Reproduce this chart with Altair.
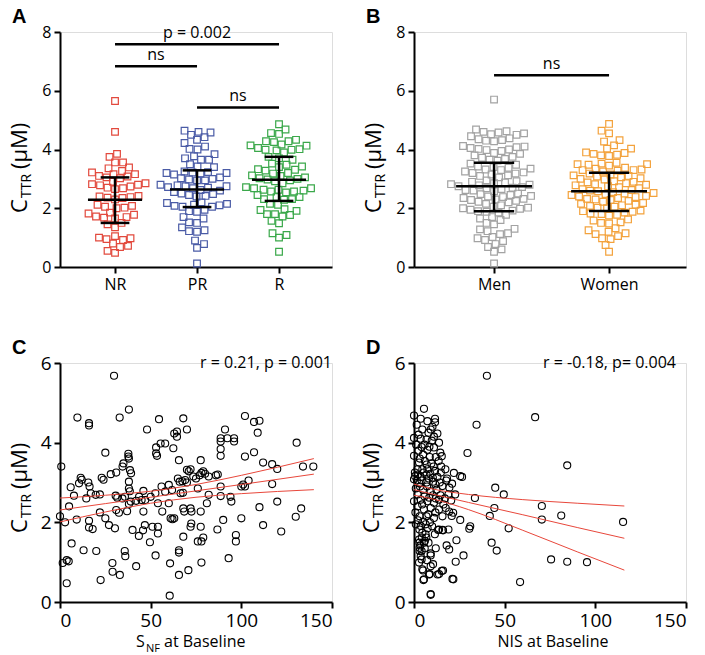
import altair as alt
import numpy as np
import pandas as pd

FONT = "Open Sans"
RED = "#e8473b"

# ---------------- Panel A data ----------------
A_groups = ["NR", "PR", "R"]
A_colors = ["#e2493d", "#4a5ba6", "#3aa84a"]
A_NR = [5.65, 4.6, 3.85, 3.75, 3.56, 3.56, 3.39, 3.36, 3.27, 3.22, 3.16, 3.16, 3.1, 3.08,
        3.05, 3.02, 2.9, 2.85, 2.82, 2.8, 2.78, 2.74, 2.7, 2.68, 2.65, 2.42, 2.4, 2.38, 2.36,
        2.35, 2.3, 2.12, 2.08, 2.05, 2.02, 2.0, 1.85, 1.82, 1.78, 1.72, 1.7, 1.68, 1.65, 1.5,
        1.45, 1.35, 1.05, 1.0, 0.98, 0.95, 0.92, 0.8, 0.72, 0.68, 0.55, 0.48]
A_PR = [4.64, 4.6, 4.58, 4.5, 4.42, 4.33, 4.22, 4.1, 4.02, 4.0, 3.84, 3.77, 3.7, 3.65, 3.65,
        3.5, 3.42, 3.4, 3.25, 3.23, 3.22, 3.2, 3.2, 3.18, 3.15, 3.05, 3.02, 3.0, 2.98, 2.95,
        2.95, 2.8, 2.78, 2.75, 2.75, 2.72, 2.7, 2.68, 2.62, 2.6, 2.55, 2.5, 2.48, 2.45, 2.42,
        2.4, 2.2, 2.18, 2.15, 2.12, 2.1, 2.08, 2.05, 2.05, 1.95, 1.9, 1.88, 1.7, 1.65, 1.52,
        1.5, 1.35, 1.25, 1.22, 1.2, 0.9, 0.78, 0.65, 0.12]
A_R = [4.86, 4.68, 4.56, 4.53, 4.33, 4.28, 4.28, 4.25, 4.17, 4.14, 4.13, 4.05, 4.01, 3.99,
       3.99, 3.97, 3.9, 3.75, 3.7, 3.65, 3.52, 3.48, 3.42, 3.4, 3.33, 3.31, 3.28, 3.2, 3.18,
       3.12, 3.1, 3.05, 3.02, 3.0, 2.98, 2.95, 2.92, 2.85, 2.72, 2.68, 2.68, 2.63, 2.63, 2.6,
       2.57, 2.57, 2.54, 2.45, 2.38, 2.38, 2.31, 2.31, 2.29, 2.15, 2.12, 1.97, 1.94, 1.91,
       1.8, 1.8, 1.77, 1.72, 1.57, 1.49, 1.15, 1.09, 1.0, 0.52]
A_mean = [2.29, 2.64, 2.97]
A_lo = [1.50, 2.04, 2.25]
A_hi = [3.05, 3.29, 3.75]
A_sig_from = [1, 1, 2]
A_sig_to = [3, 2, 3]
A_sig_y = [7.58, 6.83, 5.43]
A_sig_label = ["p = 0.002", "ns", "ns"]

# ---------------- Panel B data ----------------
B_groups = ["Men", "Women"]
B_colors = ["#a3a3a3", "#f3a23c"]
B_Men = [5.7,
         4.68, 4.62, 4.6, 4.58, 4.55, 4.52, 4.5, 4.45,
         4.38, 4.35, 4.32, 4.3, 4.28,
         4.12, 4.1, 4.08, 4.05, 4.02, 4.0, 3.98, 3.95,
         3.88, 3.85, 3.8, 3.75, 3.72, 3.68, 3.65, 3.62,
         3.52, 3.48, 3.42, 3.4, 3.38, 3.35, 3.32, 3.3,
         3.25, 3.22, 3.2, 3.18, 3.15, 3.12, 3.1, 3.05,
         2.95, 2.92, 2.9, 2.88, 2.85, 2.82, 2.8, 2.78,
         2.75, 2.72, 2.7, 2.68, 2.65, 2.62, 2.6, 2.58,
         2.5, 2.48, 2.45, 2.42, 2.4, 2.38, 2.35, 2.32,
         2.3, 2.28, 2.25, 2.22, 2.2, 2.15, 2.1, 2.05,
         2.02, 2.0, 1.98, 1.95, 1.92, 1.9, 1.88, 1.85,
         1.78, 1.7, 1.65, 1.6, 1.5, 1.45,
         1.3, 1.28, 1.22, 1.15, 1.12,
         1.02, 0.98, 0.92, 0.88,
         0.78, 0.68, 0.6, 0.52, 0.12]
B_Women = [4.87, 4.64, 4.55, 4.32, 4.27, 4.14, 4.03, 4.03,
           3.9, 3.88, 3.85, 3.82, 3.8, 3.78,
           3.55, 3.52, 3.5, 3.5, 3.48, 3.45,
           3.38, 3.35, 3.32, 3.3, 3.3, 3.28, 3.25,
           3.18, 3.15, 3.12, 3.1, 3.08, 3.05, 3.02, 3.0, 2.98,
           2.92, 2.9, 2.88, 2.85, 2.82, 2.8, 2.78, 2.75, 2.72,
           2.68, 2.65, 2.62, 2.6, 2.58, 2.55, 2.52, 2.5, 2.48, 2.45,
           2.42, 2.4, 2.38, 2.35, 2.32, 2.3, 2.28, 2.25, 2.22,
           2.18, 2.15, 2.12, 2.1, 2.08, 2.05, 2.02, 2.0,
           1.92, 1.9, 1.88, 1.85, 1.82, 1.8, 1.78, 1.75,
           1.62, 1.58, 1.52, 1.5, 1.48,
           1.32, 1.25, 1.2, 1.15, 1.12, 1.05,
           0.98, 0.95, 0.75, 0.52]
B_mean = [2.75, 2.58]
B_lo = [1.90, 1.91]
B_hi = [3.55, 3.21]
B_sig_from = [1]
B_sig_to = [2]
B_sig_y = [6.53]
B_sig_label = ["ns"]

# ---------------- Panel C data ----------------
C_x = [29.8, 9.6, 16, 16, 32.9, 38, 54.6, 68, 48, 102, 107, 110, 91, 92.3, 88.6, 88.6, 96, 96,
       109, 130.5, 63, 64.5, 64.5, 70, 53, 53, 53.5, 55.5, 58, 62.5, 65.6, 88.6, 88.6, 102,
       107, 25, 37.7, 37.7, 38, 35, 34.5, 38.6, 39.2, 77.6, 112, 117, 119.8, 134, 139.7, 0.7,
       11.4, 12, 23, 24, 28, 31, 70, 71, 72, 77, 78, 79, 80, 82, 86, 87, 104, 101, 117, 100,
       102, 75, 65, 66, 67.5, 69, 70, 5.9, 10.5, 15.6, 16.3, 17, 7.7, 22, 30.7, 46, 38, 38,
       38.5, 34.4, 14.5, 0, 2.8, 5, 9.2, 6.4, 13, 16, 16, 18, 20, 22, 25, 27, 28.9, 29, 30.3,
       31, 32.5, 33, 35.7, 36, 37, 38, 39, 40, 42, 42, 43.5, 45, 46, 45.8, 46.8, 49.6, 51,
       52.7, 54, 54, 22.4, 3.7, 1.5, 4.8, 3.7, 50, 52.6, 54, 56, 56.4, 58, 60, 60.7, 60.5,
       61, 62, 63, 65.6, 65.6, 65.6, 68, 68, 68.5, 70.8, 72, 72.5, 72.4, 72, 76, 78, 77.6,
       77.6, 78, 79, 81, 82, 86.8, 88.6, 88.6, 90, 93, 94, 94.5, 97, 97, 100, 110, 112,
       119.8, 122, 130, 133, 19.7, 31.6, 35.8, 43.6, 47, 60, 61.8, 66.5, 67.8, 73.5, 76]
C_y = [5.68, 4.63, 4.49, 4.43, 4.63, 4.83, 4.59, 4.61, 4.33, 4.67, 4.52, 4.55, 4.33, 4.11,
       4.11, 4.03, 4.11, 4.03, 4.25, 4.0, 4.23, 4.15, 4.28, 4.33, 3.88, 3.73, 3.67, 3.98,
       3.98, 3.86, 3.56, 3.84, 3.67, 3.65, 3.76, 3.75, 3.72, 3.65, 3.6, 3.48, 3.4, 3.31,
       3.23, 3.56, 3.5, 3.46, 3.34, 3.4, 3.4, 3.4, 3.12, 3.07, 3.12, 3.07, 3.21, 3.25, 3.32,
       3.28, 3.33, 3.18, 3.24, 3.28, 3.22, 3.15, 3.18, 3.2, 3.05, 2.95, 2.96, 2.9, 2.9, 3.1,
       3.1, 3.02, 3.03, 3.06, 3.0, 2.88, 2.98, 3.0, 2.9, 2.73, 2.67, 2.7, 2.67, 2.79, 3.02,
       2.85, 2.78, 2.6, 2.6, 2.15, 2.0, 2.4, 2.07, 1.47, 1.3, 2.04, 1.87, 1.83, 1.28, 2.25,
       2.1, 1.93, 0.98, 0.76, 1.85, 2.31, 2.24, 0.68, 1.28, 1.15, 2.28, 2.46, 2.52, 1.81,
       2.54, 0.9, 1.66, 2.56, 2.27, 1.8, 1.93, 1.5, 1.89, 1.17, 1.89, 1.72, 0.55, 1.05, 0.98,
       1.02, 0.47, 2.64, 2.73, 2.48, 2.9, 2.27, 2.77, 2.48, 0.97, 0.16, 2.1, 2.08, 2.1, 1.3,
       1.24, 0.68, 1.64, 2.35, 2.27, 0.8, 2.35, 2.27, 1.97, 1.89, 1.52, 1.52, 1.89, 2.27,
       0.99, 1.62, 2.48, 2.69, 1.82, 2.9, 2.66, 2.06, 1.1, 2.64, 2.52, 1.68, 1.52, 2.1, 2.38,
       1.93, 2.52, 1.77, 2.14, 2.35, 2.69, 2.62, 2.64, 2.64, 2.56, 2.94, 2.81, 2.73, 2.74,
       3.15, 2.85]
C_fit_x = [0, 25, 50, 75, 100, 140]
C_fit_hi = [2.61, 2.68, 2.78, 2.95, 3.18, 3.60]
C_fit_mid = [2.31, 2.47, 2.63, 2.79, 2.95, 3.21]
C_fit_lo = [2.01, 2.26, 2.48, 2.63, 2.72, 2.82]
C_stat = "r = 0.21, p = 0.001"

# ---------------- Panel D data ----------------
D_x = [40.2, 66.8, 34.5, 84.5, 29.5, 25.5, 44.8, 49.5, 33.6, 44.3, 41.8, 70.5, 70.5, 81.2,
       115.3, 52.2, 31, 30.5, 25.5, 23.4, 42.8, 45.6, 27.3, 75.6, 84.5, 95.4, 58.5, 21.2, 23,
       18, 19.4, 15.3, 13, 9.2, 9.2, 8.3, 5.2, 9.2, 4.6, 2.8, 3.7, 3.1, 3.1, 3, 5.5, 8, 13.8,
       16, 19, 20.8, 21.6,
       0, 3.7, 5.5, 7.4, 11.6, 11.6, 9.2, 4.6, 12.9, 11, 0, 3.7, 6.9, 9.8, 13.8, 4.2, 7.4, 11,
       0, 5, 8.7, 12, 15.3, 2.8, 6, 9.6, 13.6, 1.9, 4.6, 7.4, 11.6, 17.3, 0.6, 3.7, 6.9, 12.9,
       18.2, 22, 26.5, 0, 2.9, 6.9, 10.5, 14.2, 17.8, 15.7, 19.5, 21, 1, 5, 9.2, 12.4, 0, 3.7,
       7.4, 11, 13.8, 19, 22.7, 1.9, 5.5, 9.2, 13.8, 17.5, 19.4, 3.1, 6.9, 11, 15.7, 1, 3.7,
       6.4, 13.3, 15.7, 4.6, 6.4, 2.8, 6, 4.2, 9.2, 4.2, 5, 8.7, 13.8, 16, 5.5, 21.7, 9.2,
       1.5, 2.5, 8, 10.2, 1.2, 2.4, 5.8, 8.5, 14.5, 3.2, 7, 10.8, 15, 0.5, 2.2, 5.3, 9, 10.4,
       14.8, 1.6, 4.2, 8.2, 11.8, 3.3, 7.2, 10.4, 14.6, 17, 2, 5.8, 8.4, 12, 20.5, 0.8, 4.5,
       7.9, 11.8, 16.2, 2.2, 5.2, 8.8, 10, 3, 7.5, 11.5, 4.3, 6.8, 3.5, 5.9, 12, 7.2, 10.5]
D_y = [5.68, 4.64, 4.45, 3.43, 3.74, 3.16, 2.87, 2.7, 2.61, 2.36, 2.16, 2.41, 2.07, 2.17,
       2.01, 1.85, 1.9, 1.84, 2.06, 1.55, 1.49, 1.29, 1.17, 1.07, 1.01, 1.0, 0.5, 0.58, 1.01,
       1.42, 1.32, 0.78, 0.69, 0.9, 1.17, 0.69, 0.55, 0.18, 0.82, 0.99, 1.15, 1.28, 1.36, 1.49,
       1.49, 1.49, 1.82, 1.8, 1.82, 2.16, 2.24,
       4.68, 4.6, 4.85, 4.54, 4.6, 4.51, 4.33, 4.33, 4.23, 4.15, 4.12, 4.1, 4.08, 4.05, 4.0,
       3.89, 3.82, 3.88, 3.67, 3.7, 3.64, 3.64, 3.66, 3.5, 3.54, 3.48, 3.54, 3.33, 3.33, 3.33,
       3.29, 3.33, 3.16, 3.14, 3.2, 3.14, 3.1, 3.24, 3.14, 3.08, 2.98, 3.0, 3.02, 3.0, 3.05,
       2.91, 2.87, 2.97, 2.85, 2.82, 2.78, 2.82, 2.53, 2.57, 2.53, 2.49, 2.57, 2.7, 2.7, 2.4,
       2.32, 2.36, 2.32, 2.36, 2.27, 2.15, 2.15, 2.11, 2.15, 1.95, 1.91, 1.95, 1.81, 1.81,
       1.74, 1.7, 1.57, 1.53, 1.28, 1.22, 1.07, 0.79, 0.7, 0.7, 0.79, 0.57, 0.57, 0.2,
       4.45, 4.2, 4.25, 4.4, 3.95, 3.8, 3.95, 3.9, 3.75, 3.6, 3.45, 3.4, 3.4, 3.25, 3.2, 3.25,
       3.22, 3.12, 3.25, 3.05, 3.05, 3.1, 2.95, 2.9, 2.9, 2.68, 2.68, 2.6, 2.7, 2.65, 2.62,
       2.6, 2.55, 2.25, 2.45, 2.2, 2.25, 2.45, 2.05, 2.02, 2.0, 1.9, 1.82, 1.85, 1.7, 1.62,
       1.62, 1.42, 1.35, 1.35, 1.05, 0.95]
D_fit_x = [0, 10, 30, 60, 90, 116]
D_fit_hi = [2.96, 2.84, 2.70, 2.57, 2.48, 2.41]
D_fit_mid = [2.82, 2.71, 2.50, 2.19, 1.87, 1.60]
D_fit_lo = [2.68, 2.59, 2.32, 1.80, 1.26, 0.80]
D_stat = "r = -0.18, p= 0.004"


# ---------------- helpers ----------------
def swarm(vals, px_per_unit, diam, step=0.5):
    order = sorted(range(len(vals)), key=lambda i: vals[i])
    placed = []
    offs = [0.0] * len(vals)
    flip = 1
    for i in order:
        y = vals[i] * px_per_unit
        near = [(px, py) for px, py in placed if abs(py - y) < diam]
        k = 0
        found = None
        while found is None:
            cands = [0.0] if k == 0 else [flip * k * step, -flip * k * step]
            for c in cands:
                if all((c - px) ** 2 + (y - py) ** 2 >= diam ** 2 for px, py in near):
                    found = c
                    break
            k += 1
        flip = -flip
        offs[i] = found
        placed.append((found, y))
    return offs


def txt(text, x, y, size, angle=0, align="left", baseline="alphabetic", weight="normal",
        font=FONT):
    return alt.Chart(pd.DataFrame({"t": [text]})).mark_text(
        font=font, fontSize=size, angle=angle, align=align, baseline=baseline,
        fontWeight=weight, color="black"
    ).encode(x=alt.value(x), y=alt.value(y), text="t:N")


def ytitle(xb, y_c):
    return [
        txt("C", xb, y_c, 22, angle=270),
        txt("TTR", xb + 4, y_c - 15, 14, angle=270),
        txt("(\u03bcM)", xb, y_c - 44, 22, angle=270),
    ]


def letter(ch):
    return txt(ch, -48, -9, 20, baseline="alphabetic", weight="bold", font="Liberation Sans")


AX = dict(domainColor="black", domainWidth=2, tickColor="black", tickWidth=2, tickSize=6,
          labelColor="black", labelFont=FONT, grid=False, title=None, labelPadding=3)


def dot_panel(groups, colors, vals_list, means, los, his, sfrom, sto, sy, slab,
              xdom, W, H, ch, px_per_cat):
    rows = []
    for gi, (g, vals) in enumerate(zip(groups, vals_list)):
        offs = swarm(vals, H / 8.0, 7.6)
        for v, o in zip(vals, offs):
            rows.append({"group": g, "value": v, "pos": gi + 1 + o / px_per_cat})
    df = pd.DataFrame(rows)
    xsc = alt.Scale(domain=xdom, nice=False, zero=False)
    ysc = alt.Scale(domain=[0, 8], nice=False)
    lab = "[" + ",".join("'%s'" % g for g in groups) + "][datum.value-1]"
    xax = alt.Axis(values=list(range(1, len(groups) + 1)), labelExpr=lab, labelFontSize=16, **AX)
    yax = alt.Axis(values=[0, 2, 4, 6, 8], labelFontSize=16, **AX)

    pts = alt.Chart(df).mark_point(shape="square", filled=False, size=44, strokeWidth=1.2,
                                   opacity=1).encode(
        x=alt.X("pos:Q", scale=xsc, axis=xax),
        y=alt.Y("value:Q", scale=ysc, axis=yax),
        color=alt.Color("group:N", scale=alt.Scale(domain=groups, range=colors), legend=None),
    )
    summ = pd.DataFrame({"pos": list(range(1, len(groups) + 1)), "mean": means,
                         "lo": los, "hi": his})
    base = alt.Chart(summ)
    vbar = base.mark_rule(color="black", strokeWidth=2.5).encode(
        x=alt.X("pos:Q", scale=xsc, axis=xax), y=alt.Y("lo:Q", scale=ysc, axis=yax), y2="hi:Q")
    mline = base.transform_calculate(a="datum.pos-0.33", b="datum.pos+0.33").mark_rule(
        color="black", strokeWidth=2.5).encode(
        x=alt.X("a:Q", scale=xsc, axis=xax), x2="b:Q", y=alt.Y("mean:Q", scale=ysc, axis=yax))
    caps = []
    for f in ("lo", "hi"):
        caps.append(base.transform_calculate(a="datum.pos-0.175", b="datum.pos+0.175").mark_rule(
            color="black", strokeWidth=2.5).encode(
            x=alt.X("a:Q", scale=xsc, axis=xax), x2="b:Q",
            y=alt.Y("%s:Q" % f, scale=ysc, axis=yax)))
    sig = pd.DataFrame({"x1": sfrom, "x2": sto, "y": sy, "label": slab})
    sbase = alt.Chart(sig)
    sbar = sbase.mark_rule(color="black", strokeWidth=2.5).encode(
        x=alt.X("x1:Q", scale=xsc, axis=xax), x2="x2:Q", y=alt.Y("y:Q", scale=ysc, axis=yax))
    stxt = sbase.transform_calculate(xm="(datum.x1+datum.x2)/2").mark_text(
        font=FONT, fontSize=16, baseline="alphabetic", dy=-6, color="black").encode(
        x=alt.X("xm:Q", scale=xsc, axis=xax), y=alt.Y("y:Q", scale=ysc, axis=yax), text="label:N")
    layers = [pts, vbar, mline] + caps + [sbar, stxt, letter(ch)] + ytitle(-33, 181)
    return alt.layer(*layers).properties(width=W, height=H)


def scatter_panel(xs, ys, fx, fhi, fmid, flo, stat, stat_x, W, H, ch, xtitle_layers, ytx):
    df = pd.DataFrame({"x": xs, "y": ys})
    xsc = alt.Scale(domain=[0, 150], nice=False)
    ysc = alt.Scale(domain=[0, 6], nice=False)
    xax = alt.Axis(values=[0, 50, 100, 150], labelFontSize=19, **AX)
    yax = alt.Axis(values=[0, 2, 4, 6], labelFontSize=19, **AX)
    pts = alt.Chart(df).mark_point(shape="circle", filled=False, size=50, strokeWidth=1.1,
                                   color="black", opacity=1).encode(
        x=alt.X("x:Q", scale=xsc, axis=xax), y=alt.Y("y:Q", scale=ysc, axis=yax))
    frows = []
    for name, vals in (("upper", fhi), ("fit", fmid), ("lower", flo)):
        for a, b in zip(fx, vals):
            frows.append({"fx": a, "fy": b, "series": name})
    fit = alt.Chart(pd.DataFrame(frows)).mark_line(color=RED, strokeWidth=1, interpolate="monotone").encode(
        x=alt.X("fx:Q", scale=xsc, axis=xax), y=alt.Y("fy:Q", scale=ysc, axis=yax),
        detail="series:N")
    st = txt(stat, stat_x, 5, 16, align="right")
    layers = [pts, fit, st, letter(ch)] + xtitle_layers + ytitle(ytx, 170)
    return alt.layer(*layers).properties(width=W, height=H)


A = dot_panel(A_groups, A_colors, [A_NR, A_PR, A_R], A_mean, A_lo, A_hi,
              A_sig_from, A_sig_to, A_sig_y, A_sig_label, [0.329, 3.646], 272, 235, "A", 82)
B = dot_panel(B_groups, B_colors, [B_Men, B_Women], B_mean, B_lo, B_hi,
              B_sig_from, B_sig_to, B_sig_y, B_sig_label, [0.304, 2.669], 272, 235, "B", 115)

C_xt = [txt("S", 76, 284, 16), txt("NF", 86, 289, 11), txt("at Baseline", 104, 284, 16)]
D_xt = [txt("NIS at Baseline", 139, 284, 16, align="center")]

C = scatter_panel(C_x, C_y, C_fit_x, C_fit_hi, C_fit_mid, C_fit_lo, C_stat, 272,
                  272, 239, "C", C_xt, -33)
D = scatter_panel(D_x, D_y, D_fit_x, D_fit_hi, D_fit_mid, D_fit_lo, D_stat, 262,
                  272, 239, "D", D_xt, -35)

chart = alt.concat(A, B, C, D, columns=2, spacing={"row": 96, "column": 82},
                   bounds="flush").resolve_scale(color="independent").properties(
    padding={"left": 0, "top": -2, "right": 4, "bottom": 0}
).configure_view(strokeWidth=0).configure(background="white")

chart.save("out.html", embed_options={"renderer": "svg", "actions": False})
